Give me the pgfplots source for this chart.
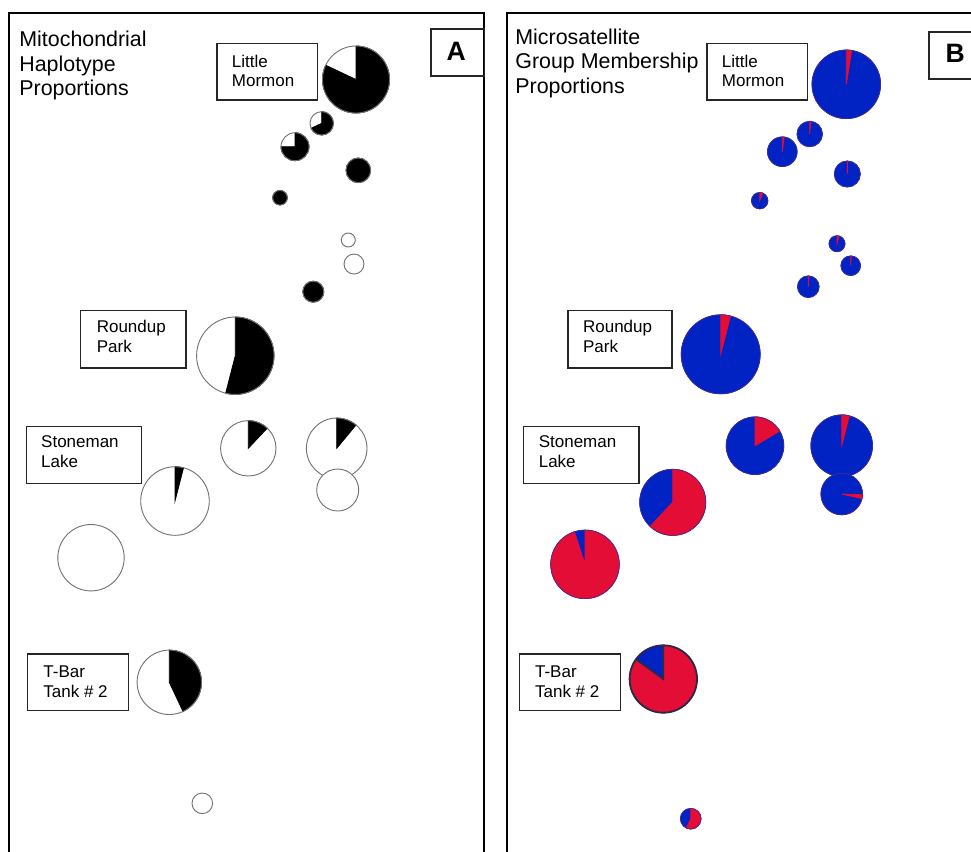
\documentclass[border=0pt]{standalone}
\usepackage{pgfplots}
\pgfplotsset{compat=1.18}
\usepackage{pgfplotstable}
\usepackage{fontspec}
\setmainfont{Liberation Sans}
\definecolor{pieblue}{HTML}{0223C4}
\definecolor{piered}{HTML}{E30D36}
\definecolor{pieedge}{HTML}{707070}
\definecolor{bedge}{HTML}{4A2A8A}
\definecolor{tedge}{HTML}{2A2A48}

% Panel A: x y (pixels), radius r (pixels), fraction f of black (clockwise from angle a), outline width w
\pgfplotstableread{
x     y     r    f     a   w
356   79.5  33.5 0.82  90  0.45
321.7 123.3 11.7 0.68  90  0.45
295   146.7 14   0.75  90  0.45
358.3 170.3 12.3 1     90  0.45
280   197.7 7.3  1     90  0.45
348.3 240   7    0     90  0.45
354   264   10   0     90  0.45
313.3 291.7 10.5 1     90  0.45
235.3 355.7 38.7 0.54  90  0.45
248.3 448.3 27.7 0.12  90  0.45
336.7 448.3 30.3 0.11  90  0.45
337.7 490   21   0     90  0.45
175   501   34.3 0.04  90  0.45
91    557.7 33.2 0     90  0.45
169.3 682.3 32.2 0.43  90  0.45
202.3 803.3 10.3 0     90  0.45
}\piesA

% Panel B: fraction f of red (clockwise from angle a), rest blue
\pgfplotstableread{
x     y     r    f     a   w
846.3 84.3  34.3 0.025 90  0.3
809.7 134   12.7 0.015 90  0.3
782.3 151.7 14.8 0.02  90  0.3
847.3 174   13   0.005 90  0.3
759.7 200.7 8.2  0.06  90  0.3
837   243.7 8    0.04  90  0.3
850.7 265.7 9.8  0.01  90  0.3
808.3 286.7 10.8 0.01  90  0.3
720.7 354.3 39.5 0.04  90  0.3
755   445.7 28.8 0.165 90  0.3
841.7 445.7 30.8 0.04  90  0.3
841.7 494   20.8 0.03  -2  0.3
672.7 502.3 33   0.62  90  0.3
585   564.3 34.2 0.95  90  0.3
690.7 818.7 10.3 0.57  90  0.3
}\piesB

\pgfplotstableread{
x     y     r    f     a   w
663.3 679   33.7 0.85  90  0.9
}\piesBT

\tikzset{
  lbl/.style={anchor=north west, inner sep=0pt, align=left, font=\fontsize{8.5pt}{9.8pt}\selectfont},
  ttl/.style={anchor=north west, inner sep=0pt, align=left, font=\fontsize{10.7pt}{12.25pt}\selectfont},
  boxs/.style={line width=0.6pt, draw=black!85},
}
\pgfplotsset{
  frame panel/.style={
    scale only axis, anchor=north west,
    y dir=reverse, ymin=13, ymax=880, height=433.5pt,
    xtick=\empty, ytick=\empty,
    axis line style={line width=1.1pt},
    clip=false,
  },
  pie plot/.style n args={3}{
    scatter, only marks, mark=*, mark size=0.5pt,
    visualization depends on={\thisrow{r} \as \vR},
    visualization depends on={\thisrow{f} \as \vF},
    visualization depends on={\thisrow{a} \as \vA},
    visualization depends on={\thisrow{w} \as \vW},
    scatter/@pre marker code/.code={%
      \pgfmathsetmacro\vRad{0.5*\vR}%
      \pgfmathsetmacro\vEnd{\vA-360*\vF}%
      \fill[#2] (0pt,0pt) circle[radius=\vRad pt];
      \ifdim\vF pt>0pt
        \fill[#1] (0pt,0pt) -- (\vA:\vRad pt) arc[start angle=\vA, end angle=\vEnd, radius=\vRad pt] -- cycle;
      \fi
      \ifdim\vW pt>0.6pt
        \draw[#3, line width=\vW pt] (\vA:\vRad pt) -- (0pt,0pt) -- (\vEnd:\vRad pt);
      \fi
      \draw[#3, line width=\vW pt] (0pt,0pt) circle[radius=\vRad pt];
      \scope[opacity=0]%
    },
    scatter/@post marker code/.code={\endscope},
  },
}

\begin{document}
\begin{tikzpicture}
% ---------- Panel A ----------
\begin{axis}[frame panel, at={(4.65pt,-6.5pt)}, width=237.5pt, xmin=9.3, xmax=484.3]
  \addplot[pie plot={black}{white}{pieedge}] table[x=x,y=y] {\piesA};
  \node[ttl] at (19,30.7) {Mitochondrial\\Haplotype\\Proportions};
  \draw[boxs] (431,29) rectangle (484.3,76);
  \node[anchor=center, inner sep=0pt, font=\fontsize{13.3pt}{14pt}\selectfont\bfseries] at (456.3,51.3) {A};
  \draw[boxs] (217,43.7) rectangle (317.7,100);
  \node[lbl] at (231.5,54.3) {Little\\Mormon};
  \draw[boxs] (80.7,310.3) rectangle (186,368);
  \node[lbl] at (96.4,320) {Roundup\\Park};
  \draw[boxs] (26.3,426.3) rectangle (141.7,483.7);
  \node[lbl] at (40.8,435.7) {Stoneman\\Lake};
  \draw[boxs] (27.7,654) rectangle (128.7,710.3);
  \node[lbl] at (43,665.7) {T-Bar\\Tank \# 2};
\end{axis}
% ---------- Panel B ----------
\begin{axis}[frame panel, at={(253.6pt,-6.5pt)}, width=246.4pt, xmin=507.2, xmax=1000]
  \addplot[pie plot={piered}{pieblue}{bedge}] table[x=x,y=y] {\piesB};
  \addplot[pie plot={piered}{pieblue}{tedge}] table[x=x,y=y] {\piesBT};
  \node[ttl] at (515,28.3) {Microsatellite\\Group Membership\\Proportions};
  \draw[boxs] (929,32) rectangle (1000,79);
  \node[anchor=center, inner sep=0pt, font=\fontsize{13.3pt}{14pt}\selectfont\bfseries] at (955.3,53.8) {B};
  \draw[boxs] (707,43.7) rectangle (807.7,100);
  \node[lbl] at (721.5,54.3) {Little\\Mormon};
  \draw[boxs] (568,310.3) rectangle (672,368);
  \node[lbl] at (582.7,320) {Roundup\\Park};
  \draw[boxs] (523.7,426.3) rectangle (639,483.7);
  \node[lbl] at (538.4,435.7) {Stoneman\\Lake};
  \draw[boxs] (519.3,654) rectangle (620.3,710.3);
  \node[lbl] at (534.7,665.7) {T-Bar\\Tank \# 2};
\end{axis}
\pgfresetboundingbox
\useasboundingbox (0,0) rectangle (485.5pt,-426pt);
\end{tikzpicture}
\end{document}
